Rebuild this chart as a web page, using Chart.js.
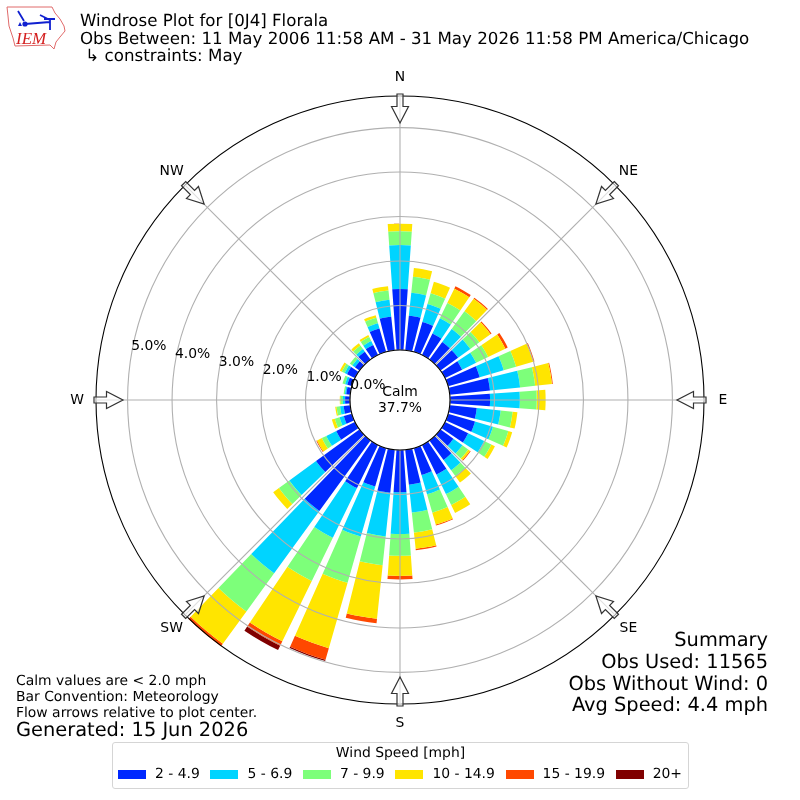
<!DOCTYPE html>
<html>
<head>
<meta charset="utf-8">
<title>Windrose Plot</title>
<script src="https://cdn.jsdelivr.net/npm/chart.js@4"></script>
<style>
	body { margin: 0; background: #fff; font-family: "DejaVu Sans", sans-serif; color: #000; text-rendering: geometricPrecision; }
	#wrap { position: relative; width: 800px; height: 800px; overflow: hidden; }
	canvas { position: absolute; left: 0; top: 0; }
	.txt { position: absolute; white-space: pre; }
	#title { left: 80px; top: 12px; font-size: 16.67px; line-height: 17.7px; }
	#notes { left: 16px; top: 673px; font-size: 13.9px; line-height: 16px; }
	#generated { left: 16px; top: 718px; font-size: 19.4px; line-height: 24px; }
	#summary { right: 32px; top: 629px; font-size: 19.4px; line-height: 21.8px; text-align: right; }
	#legend { position: absolute; left: 112px; top: 742px; width: 575px; height: 45px; border: 1px solid #d5d5d5; border-radius: 3px; font-size: 13.9px; }
	#legend-title { position: absolute; left: 0; right: 0; top: 2px; text-align: center; font-size: 13.9px; }
	#legend-items { position: absolute; left: 5px; top: 23px; display: flex; gap: 10.7px; }
	.item { display: flex; align-items: center; gap: 9px; }
	.swatch { width: 28px; height: 9px; }
	#logo { position: absolute; left: 0; top: 0; }
</style>
</head>
<body>
<div id="wrap">
	<canvas id="rose" width="800" height="800"></canvas>
	<svg id="logo" width="70" height="52" viewBox="0 0 70 52">
		<path d="M7 7 L52 7 L55 13 L60 19 L64 26 L65 31 L60 37 L56 42 L54 49 L50 45 L15 46 L13 38 L9 26 L8 16 Z" fill="none" stroke="#e06a6a" stroke-width="1"/>
		<path d="M25 24 L50 22 M40 15 L50 20 M55 19 L44 19 M50 19 L50 30 M18 11 L24 21" fill="none" stroke="#1020d0" stroke-width="1.8"/>
		<circle cx="25" cy="24" r="2.6" fill="#1020d0"/>
		<path d="M18 26 L20 22 L22 26 Z" fill="#1020d0"/>
		<text x="16" y="44" font-family="Liberation Serif" font-style="italic" font-size="17" fill="#d42020">IEM</text>
	</svg>
	<div class="txt" id="title">Windrose Plot for [0J4] Florala
Obs Between: 11 May 2006 11:58 AM - 31 May 2026 11:58 PM America/Chicago
 ↳ constraints: May</div>
	<div class="txt" id="notes">Calm values are &lt; 2.0 mph
Bar Convention: Meteorology
Flow arrows relative to plot center.</div>
	<div class="txt" id="generated">Generated: 15 Jun 2026</div>
	<div class="txt" id="summary">Summary
Obs Used: 11565
Obs Without Wind: 0
Avg Speed: 4.4 mph</div>
	<div id="legend">
		<div id="legend-title">Wind Speed [mph]</div>
		<div id="legend-items"></div>
	</div>
</div>
<script>
// percent of obs per 10 degree bin, clockwise from north
const speed2to5 = [1.37, .78, .70, .54, .49, .49, .43, .74, .91, .90, .61, .63, .58, .36, .54, .74, .63, .79, .95, .97, .90, 1.08, 1.96, 1.21, .47, .19, .15, .11, .09, .11, .20, .13, .22, .25, .55, .76];
const speed5to7 = [.99, .52, .42, .38, .36, .34, .35, .56, .68, .67, .54, .42, .40, .25, .29, .49, .45, .63, .94, .99, 1.17, 1.24, 1.73, .74, .25, .10, .08, .05, .03, .05, .06, .07, .07, .10, .12, .38];
const speed7to10 = [.31, .36, .25, .38, .49, .25, .30, .29, .34, .38, .27, .36, .18, .16, .16, .27, .43, .45, .49, .65, 1.08, 1.08, 1.06, .29, .11, .11, .08, .05, .03, .06, .07, .07, .10, .10, .13, .21];
const speed10to15 = [.17, .20, .27, .36, .35, .31, .43, .40, .38, .20, .11, .09, .09, .05, .18, .20, .28, .37, .45, 1.21, 1.53, 1.51, .90, .16, .12, .07, .03, .02, 0, 0, .05, 0, .06, .05, .06, .10];
const speed15to20 = [0, 0, 0, .06, .03, .03, .06, .03, .02, 0, 0, 0, 0, .02, 0, 0, .02, .03, .08, .10, .27, .11, .07, 0, .02, 0, 0, 0, 0, 0, 0, 0, 0, 0, 0, 0];
const speed20up = [0, 0, 0, 0, 0, 0, 0, 0, 0, 0, 0, 0, 0, 0, 0, 0, 0, 0, 0, 0, .03, .11, 0, 0, 0, 0, 0, 0, 0, 0, 0, 0, 0, 0, 0, 0];

const bandLabels = ["2 - 4.9", "5 - 6.9", "7 - 9.9", "10 - 14.9", "15 - 19.9", "20+"];
const bandColors = ["#0028ff", "#00d4ff", "#7dff7a", "#ffe500", "#ff4800", "#800000"];
const compass = ["N", "NE", "E", "SE", "S", "SW", "W", "NW"];
const tickValues = [0, 1, 2, 3, 4, 5];

const bands = [speed2to5, speed5to7, speed7to10, speed10to15, speed15to20, speed20up];
const rMin = -1.124;
const rMax = 5.71;
const grey = "#b0b0b0";

// bars are 8 deg with a 2 deg gap, slot 0 only winds the start back so N is centered
function slotAngle(ctx) {
	if (ctx.dataIndex === 0) return 356;
	return ctx.dataIndex % 2 ? 8 : 2;
}

const datasets = bands.map((band, b) => {
	const data = [rMin];
	band.forEach((_, d) => {
		let total = 0;
		for (let i = 0; i <= b; i++) total += bands[i][d];
		data.push(total, rMin);
	});
	return { label: bandLabels[b], data, backgroundColor: bandColors[b], borderWidth: 0, angle: slotAngle };
});

// polarArea arcs all start at the center, turn them into stacked rings
const stackRings = {
	id: "stackRings",
	beforeDatasetsDraw(chart) {
		for (let b = 1; b < bands.length; b++) {
			const below = chart.getDatasetMeta(b - 1).data;
			chart.getDatasetMeta(b).data.forEach((arc, i) => {
				arc.innerRadius = Math.min(below[i].outerRadius, arc.outerRadius);
			});
		}
	},
};

const overlay = {
	id: "overlay",
	afterDraw(chart) {
		const c = chart.ctx;
		const r = chart.scales.r;
		const zero = r.getDistanceFromCenterForValue(0);
		const outer = r.getDistanceFromCenterForValue(rMax);

		c.save();
		// calm hole
		c.beginPath();
		c.arc(r.xCenter, r.yCenter, zero, 0, Math.PI * 2);
		c.fillStyle = "#fff";
		c.fill();
		c.strokeStyle = "#000";
		c.lineWidth = 1.1;
		c.stroke();

		// flow arrows
		compass.forEach((_, i) => {
			const a = r.getIndexAngle(i);
			const p = r.getPointPosition(i, outer + 2);
			c.save();
			c.translate(p.x, p.y);
			c.rotate(a);
			c.beginPath();
			c.moveTo(-3, 0);
			c.lineTo(3, 0);
			c.lineTo(3, 12.5);
			c.lineTo(8.5, 12.5);
			c.lineTo(0, 29);
			c.lineTo(-8.5, 12.5);
			c.lineTo(-3, 12.5);
			c.closePath();
			c.fillStyle = "rgba(255,255,255,0.6)";
			c.fill();
			c.strokeStyle = "#333";
			c.lineWidth = 1.2;
			c.stroke();
			c.restore();
		});

		// compass labels
		c.fillStyle = "#000";
		c.font = '13.9px "DejaVu Sans"';
		c.textAlign = "center";
		c.textBaseline = "middle";
		r.getLabels().forEach((label, i) => {
			const p = r.getPointPosition(i, outer + 19);
			c.fillText(label, p.x, p.y);
		});

		// radial tick labels run along 280 deg
		const tickAngle = (280 - 90) * Math.PI / 180;
		c.textAlign = "left";
		c.textBaseline = "bottom";
		r.ticks.forEach((t) => {
			if (!tickValues.includes(t.value)) return;
			const d = r.getDistanceFromCenterForValue(t.value);
			c.fillText(t.label, r.xCenter + d * Math.cos(tickAngle) - 0.5, r.yCenter + d * Math.sin(tickAngle) + 1);
		});

		c.textAlign = "center";
		c.textBaseline = "middle";
		c.fillText("Calm", r.xCenter, r.yCenter - 8);
		c.fillText("37.7%", r.xCenter, r.yCenter + 8.5);
		c.restore();
	},
};

new Chart(document.getElementById("rose"), {
	type: "polarArea",
	data: { labels: compass, datasets },
	plugins: [stackRings, overlay],
	options: {
		responsive: false,
		animation: false,
		events: [],
		layout: { padding: 96 },
		plugins: { legend: { display: false }, tooltip: { enabled: false } },
		scales: {
			r: {
				min: rMin,
				max: rMax,
				afterBuildTicks(axis) {
					axis.ticks = tickValues.concat(rMax).map((value) => ({ value }));
				},
				ticks: { display: false, callback: (v) => v.toFixed(1) + "%" },
				grid: {
					circular: true,
					z: 1,
					lineWidth: 1.1,
					color: (ctx) => (ctx.tick && ctx.tick.value === rMax ? "#000" : grey),
				},
				angleLines: { display: true, color: grey, lineWidth: 1.1 },
				pointLabels: { display: false },
			},
		},
	},
});

// legend
const items = document.getElementById("legend-items");
bandLabels.forEach((label, i) => {
	const item = document.createElement("div");
	item.className = "item";
	const swatch = document.createElement("div");
	swatch.className = "swatch";
	swatch.style.background = bandColors[i];
	const text = document.createElement("span");
	text.textContent = label;
	item.append(swatch, text);
	items.append(item);
});
</script>
</body>
</html>
